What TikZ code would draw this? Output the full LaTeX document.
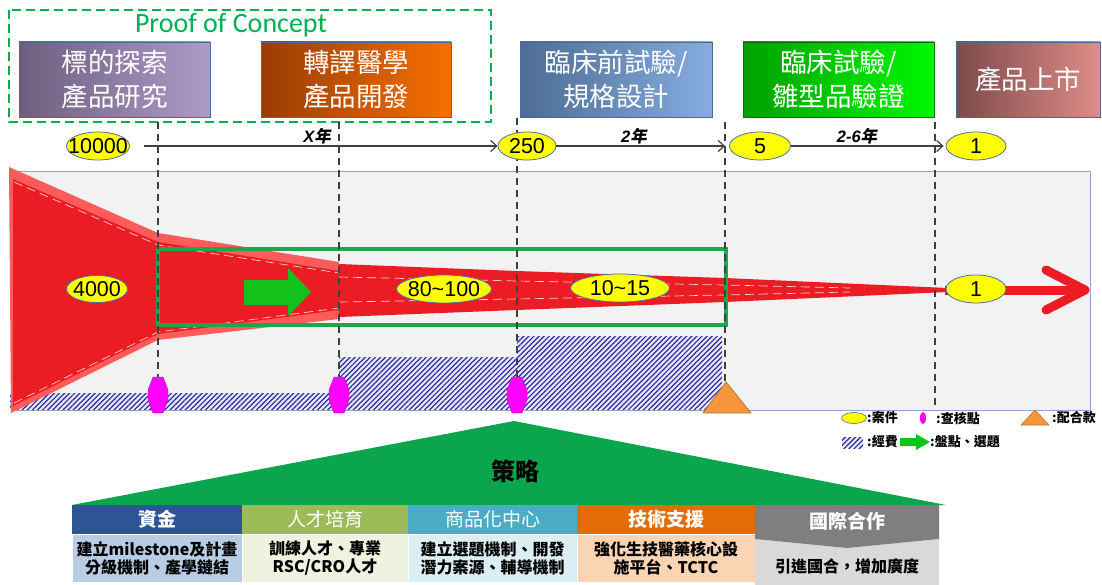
\documentclass[tikz,border=0pt]{standalone}
\usepackage{fontspec}
\setmainfont{Liberation Sans}
\newfontfamily\cjk{Noto Sans CJK TC}
\newfontfamily\cjksl{Noto Sans CJK TC}[FakeSlant=0.2]
\newfontfamily\pocfont{Carlito}
\usetikzlibrary{shapes.geometric,arrows.meta,patterns.meta}
\definecolor{panelfill}{HTML}{F2F2F2}
\definecolor{panelborder}{HTML}{8FA8C8}
\definecolor{funred}{HTML}{EC1C24}
\definecolor{lightred}{HTML}{FF5B5B}
\definecolor{rectgreen}{HTML}{1DA64A}
\definecolor{arrgreen}{HTML}{12C21B}
\definecolor{chkmag}{HTML}{FF00FF}
\definecolor{orangetri}{HTML}{F7963D}
\definecolor{orangeedge}{HTML}{C0732F}
\definecolor{hatchblue}{HTML}{2B2BA0}
\definecolor{hatchbg}{HTML}{E6E6F6}
\definecolor{stratgreen}{HTML}{0AA54D}
\definecolor{ellyellow}{HTML}{FFFF00}
\definecolor{ellborder}{HTML}{4F6FA0}
\definecolor{pocgreen}{HTML}{00B050}
\definecolor{tlgray}{HTML}{404040}
\definecolor{boxedge}{HTML}{4A6A9A}
\definecolor{bAl}{HTML}{6E5E7E}\definecolor{bAr}{HTML}{AE9BC9}
\definecolor{bBl}{HTML}{9A3C05}\definecolor{bBr}{HTML}{F57000}
\definecolor{bCl}{HTML}{4C6C94}\definecolor{bCr}{HTML}{86ACDF}
\definecolor{bDl}{HTML}{00A000}\definecolor{bDr}{HTML}{00F800}
\definecolor{bEl}{HTML}{7D4A4A}\definecolor{bEr}{HTML}{DE8C88}
\definecolor{hA}{HTML}{2F5496}\definecolor{cA}{HTML}{B8CCE4}
\definecolor{hB}{HTML}{9BBB59}\definecolor{cB}{HTML}{EEF3DF}
\definecolor{hC}{HTML}{4BACC6}\definecolor{cC}{HTML}{DBEEF4}
\definecolor{hD}{HTML}{E36C09}\definecolor{cD}{HTML}{FBD4B4}
\definecolor{hE}{HTML}{7F7F7F}\definecolor{cE}{HTML}{D9D9D9}
\begin{document}
\begin{tikzpicture}[x=1pt,y=-1pt,
  topbox/.style={draw=boxedge, line width=0.8pt, minimum height=75, text=white, align=center, inner sep=0, font=\cjk\fontsize{26.5}{34}\selectfont},
  ell/.style={ellipse, fill=ellyellow, draw=ellborder, line width=0.8pt, inner sep=0, minimum height=28},
  num/.style={font=\fontsize{21.5}{21.5}\selectfont, inner sep=0},
  tl/.style={draw=tlgray, line width=1.2pt, -{Straight Barb[length=6pt,width=11pt]}},
  guide/.style={draw=tlgray, line width=1.3pt, dash pattern=on 7pt off 5pt},
  yrs/.style={font=\fontsize{16.5}{16.5}\selectfont\bfseries\itshape, inner sep=0},
  wdash/.style={draw=white, line width=0.7pt, dash pattern=on 9pt off 5pt, opacity=0.8},
  hatch/.style={fill=hatchbg, postaction={pattern={Lines[angle=45,distance=3.6pt,line width=1.2pt]}, pattern color=hatchblue}},
  chkpt/.style={fill=chkmag, draw=chkmag!80!black, line width=0.4pt},
  hdrcell/.style={minimum height=29, inner sep=0, text=white, font=\cjk\fontsize{19}{19}\selectfont},
  bodycell/.style={minimum height=48, inner sep=0, align=center, font=\cjk\bfseries\fontsize{16}{18}\selectfont},
  legtext/.style={anchor=west, inner sep=0, font=\cjk\bfseries\fontsize{13}{13}\selectfont}
]
\useasboundingbox (0,0) rectangle (1102,585);

% ---------- top: proof of concept & stage boxes ----------
\draw[pocgreen, line width=2.5pt, dash pattern=on 9pt off 5pt] (9,10) rectangle (491,122);
\node[text=pocgreen, font=\pocfont\fontsize{28}{28}\selectfont, inner sep=0] (poc) at (231,25) {Proof of Concept};

\node[topbox, left color=bAl, right color=bAr, minimum width=191] (b1) at (114.5,79.5) {標的探索\\產品研究};
\node[topbox, left color=bBl, right color=bBr, minimum width=190] (b2) at (356,79.5) {轉譯醫學\\產品開發};
\node[topbox, left color=bCl, right color=bCr, minimum width=192] (b3) at (616,79.5) {臨床前試驗/\\規格設計};
\node[topbox, left color=bDl, right color=bDr, minimum width=191, draw=bDl!70!black] (b4) at (838.5,79.5) {臨床試驗/\\雛型品驗證};
\node[topbox, left color=bEl, right color=bEr, minimum width=144] (b5) at (1028,79.5) {產品上市};

% ---------- main panel ----------
\draw[fill=panelfill, draw=panelborder, line width=1pt] (12,172) rectangle (1090,410);

% funding hatch
\path[hatch] (10,393) rectangle (339,409);
\path[hatch] (339,357) rectangle (517,409);
\path[hatch] (517,336) rectangle (722,409);

% red funnel
\fill[lightred] (9,167) -- (158,233) -- (339,262) -- (339,319) -- (158,340) -- (11,413) -- cycle;
\fill[funred] (13,179) -- (158,242) -- (339,271) -- (339,310) -- (158,334) -- (13,406) -- cycle;
\fill[funred] (339,264) -- (517,271) -- (725,278) -- (948,288) -- (948,292) -- (725,302) -- (517,310) -- (339,317) -- cycle;
\draw[wdash] (14,182) -- (158,245) -- (339,273);
\draw[wdash] (14,403) -- (158,332) -- (339,308);
\draw[wdash] (339,277) -- (517,281) -- (725,285) -- (850,288);
\draw[wdash] (339,302) -- (517,299) -- (725,295) -- (850,292);
\coordinate (redstart) at (945,290);
\coordinate (redtip) at (1082,290);
\draw[funred, line width=9pt] (redstart) -- (redtip);
\draw[funred, line width=9pt, line cap=round, line join=round] (1046,270) -- (1085,290) -- (1046,310);

% PoC selection rectangle and arrow
\draw[rectgreen, line width=3.5pt] (158,249) rectangle (726,325);
\fill[arrgreen] (244,280) -- (288,280) -- (288,268) -- (311,292) -- (288,316) -- (288,305) -- (244,305) -- cycle;

% guides
\draw[guide] (158,122) -- (158,380);
\draw[guide] (339,122) -- (339,380);
\draw[guide] (517,118) -- (517,380);
\draw[guide] (725,122) -- (725,385);
\draw[guide] (935,122) -- (935,410);

% checkpoints
\foreach \cx in {158,339,517}{
  \path[chkpt] (\cx-5,377) -- (\cx+5,377) -- (\cx+10,390) -- (\cx+10,400) -- (\cx+5,413) -- (\cx-5,413) -- (\cx-10,400) -- (\cx-10,390) -- cycle;
}
% matching fund triangle
\path[fill=orangetri, draw=orangeedge, line width=0.8pt] (703,413) -- (726,382) -- (751,413) -- cycle;

% ---------- timeline ----------
\node[ell, minimum width=63] (n10000) at (98,146) {};
\node[num] (t10000) at (n10000) {10000};
\node[ell, minimum width=58] (n250) at (527,146) {};
\node[num] (t250) at (n250) {250};
\node[ell, minimum width=61] (n5) at (760,146) {};
\node[num] (t5) at (n5) {5};
\node[ell, minimum width=60] (n1a) at (976,146) {};
\node[num] (t1a) at (n1a) {1};
\coordinate (tstart) at (144,146);
\draw[tl] (tstart) -- (n250.west);
\draw[tl, shorten >=4pt] (n250.east) -- (n5.west);
\draw[tl, shorten >=2pt] (n5.east) -- (n1a.west);
\node[yrs] (yx) at (317,136) {X{\cjksl\bfseries 年}};
\node[yrs] (y2) at (634,136) {2{\cjksl\bfseries 年}};
\node[yrs] (y26) at (857,136) {2-6{\cjksl\bfseries 年}};

% ---------- case counts ----------
\node[ell, minimum width=61, minimum height=27] (m4000) at (97,289) {};
\node[num] (tm4000) at (m4000) {4000};
\node[ell, minimum width=95] (m80) at (444,289) {};
\node[num] (tm80) at (m80) {80\char`\~100};
\node[ell, minimum width=99] (m10) at (620,288) {};
\node[num] (tm10) at (m10) {10\char`\~15};
\node[ell, minimum width=60] (m1) at (976,289) {};
\node[num] (tm1) at (m1) {1};

% ---------- legend ----------
\node[ellipse, fill=ellyellow, draw=ellborder, line width=0.6pt, minimum width=25, minimum height=11, inner sep=0] (lg1) at (854,418) {};
\node[legtext] (lt1) at (867,418) {:案件};
\node[ellipse, fill=chkmag, minimum width=6, minimum height=12, inner sep=0] (lg2) at (923,418) {};
\node[legtext] (lt2) at (936,418) {:查核點};
\path[fill=orangetri, draw=orangeedge, line width=0.6pt] (1021,425) -- (1035,410) -- (1049,425) -- cycle;
\node[legtext] (lt3) at (1052,418) {:配合款};
\path[hatch] (842,437) rectangle (863,448);
\node[legtext] (lt4) at (867,442) {:經費};
\fill[arrgreen] (900,438) -- (916,438) -- (916,434) -- (930,442) -- (916,450) -- (916,446) -- (900,446) -- cycle;
\node[legtext] (lt5) at (930,442) {:盤點、選題};

% ---------- strategy ----------
\fill[stratgreen] (72,505) -- (514,421) -- (946,505) -- cycle;
\node[font=\cjk\bfseries\fontsize{24}{24}\selectfont, inner sep=0] (strat) at (515,471) {策略};

\node[hdrcell, fill=hA, minimum width=170, font=\cjk\bfseries\fontsize{19}{19}\selectfont] (h1) at (157,519.5) {資金};
\node[hdrcell, fill=hB, minimum width=166] (h2) at (325,519.5) {人才培育};
\node[hdrcell, fill=hC, minimum width=169] (h3) at (492.5,519.5) {商品化中心};
\node[hdrcell, fill=hD, minimum width=178, font=\cjk\bfseries\fontsize{19}{19}\selectfont] (h4) at (666,519.5) {技術支援};
\node[bodycell, fill=cA, draw=white, line width=1pt, minimum width=170] (c1) at (157,558.5) {建立milestone及計畫\\分級機制、產學鏈結};
\node[bodycell, fill=cB, draw=white, line width=1pt, minimum width=166] (c2) at (325,558.5) {訓練人才、專業\\RSC/CRO人才};
\node[bodycell, fill=cC, draw=white, line width=1pt, minimum width=169] (c3) at (492.5,558.5) {建立選題機制、開發\\潛力案源、輔導機制};
\node[bodycell, fill=cD, draw=white, line width=1pt, minimum width=178] (c4) at (666,558.5) {強化生技醫藥核心設\\施平台、TCTC};
\fill[cE] (755,539) -- (847,548) -- (939,539) -- (939,585) -- (755,585) -- cycle;
\fill[hE] (755,505) -- (939,505) -- (939,539) -- (847,548) -- (755,539) -- cycle;
\node[text=white, font=\cjk\bfseries\fontsize{19}{19}\selectfont, inner sep=0] (h5) at (847,521) {國際合作};
\node[font=\cjk\bfseries\fontsize{16}{16}\selectfont, inner sep=0] (c5) at (847,566) {引進國合，增加廣度};
\end{tikzpicture}
\end{document}
